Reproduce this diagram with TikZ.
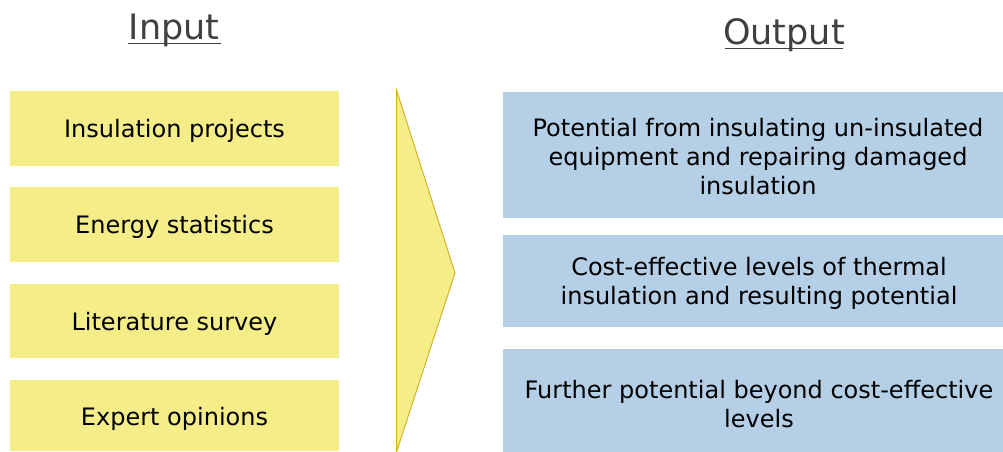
\documentclass[tikz,border=0pt]{standalone}
\usepackage{fontspec}
\setmainfont{DejaVu Sans}
\definecolor{inyellow}{RGB}{245,238,136}
\definecolor{outblue}{RGB}{180,207,230}
\definecolor{arrowline}{RGB}{214,178,40}
\definecolor{titlegrey}{RGB}{64,64,64}
\begin{document}
\begin{tikzpicture}[x=1pt,y=-1pt,
  boxtext/.style={font=\fontsize{24}{29}\selectfont,align=center,text=black},
  titletext/.style={font=\fontsize{35}{40}\selectfont,text=titlegrey,anchor=base}]
\useasboundingbox (0,0) rectangle (1003,452);
% titles
\node[titletext] (tin) at (174,40) {Input};
\draw[titlegrey,line width=1.6pt] (128,43.5) -- (220.5,43.5);
\node[titletext] (tout) at (784,45) {Output};
\draw[titlegrey,line width=1.6pt] (724.5,48.5) -- (843,48.5);
% input boxes
\fill[inyellow] (10,91) rectangle (339,166);
\node[boxtext] (i1) at (174.5,131) {Insulation projects};
\fill[inyellow] (10,187) rectangle (339,262);
\node[boxtext] (i2) at (174.5,227) {Energy statistics};
\fill[inyellow] (10,284) rectangle (339,358);
\node[boxtext] (i3) at (174.5,323.5) {Literature survey};
\fill[inyellow] (10,380) rectangle (339,451);
\node[boxtext] (i4) at (174.5,419) {Expert opinions};
% arrow
\draw[fill=inyellow,draw=arrowline,line width=1pt,line join=miter] (396.5,90) -- (455,273) -- (396.5,452) -- cycle;
% output boxes
\fill[outblue] (503,92) rectangle (1003,218);
\node[boxtext] (o1) at (758,157) {Potential from insulating un-insulated\\equipment and repairing damaged\\insulation};
\fill[outblue] (503,235) rectangle (1003,327);
\node[boxtext] (o2) at (759,283) {Cost-effective levels of thermal\\insulation and resulting potential};
\fill[outblue] (503,349) rectangle (1003,452);
\node[boxtext] (o3) at (759,404) {Further potential beyond cost-effective\\levels};
\end{tikzpicture}
\end{document}
